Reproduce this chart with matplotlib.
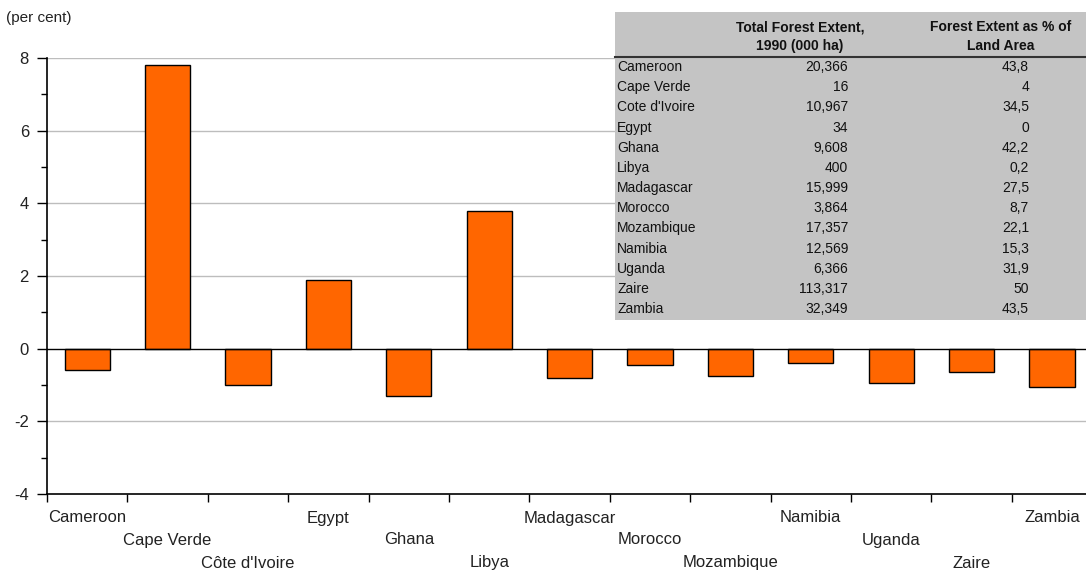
import matplotlib
matplotlib.use("Agg")
import matplotlib.pyplot as plt
from matplotlib.patches import Rectangle
from matplotlib.lines import Line2D

plt.rcParams['font.family'] = ['Liberation Sans', 'DejaVu Sans']
plt.rcParams['axes.unicode_minus'] = False

countries = ['Cameroon', 'Cape Verde', "Côte d'Ivoire", 'Egypt', 'Ghana', 'Libya',
             'Madagascar', 'Morocco', 'Mozambique', 'Namibia', 'Uganda', 'Zaire', 'Zambia']
change = [-0.6, 7.8, -1.0, 1.9, -1.3, 3.8, -0.8, -0.45, -0.75, -0.4, -0.95, -0.65, -1.05]

table_names = ['Cameroon', 'Cape Verde', "Cote d'Ivoire", 'Egypt', 'Ghana', 'Libya',
               'Madagascar', 'Morocco', 'Mozambique', 'Namibia', 'Uganda', 'Zaire', 'Zambia']
forest_extent = ['20,366', '16', '10,967', '34', '9,608', '400', '15,999', '3,864',
                 '17,357', '12,569', '6,366', '113,317', '32,349']
pct_land = ['43,8', '4', '34,5', '0', '42,2', '0,2', '27,5', '8,7', '22,1', '15,3',
            '31,9', '50', '43,5']

W, H = 1086, 573
fig = plt.figure(figsize=(W / 100, H / 100), dpi=100)

# axes in pixel coords of the reference (plot runs slightly past the right edge)
x0, x1, ytop, ybot = 47, 47 + 13 * 80.4, 58, 494
ax = fig.add_axes([x0 / W, (H - ybot) / H, (x1 - x0) / W, (ybot - ytop) / H])

xs = [i + 0.5 for i in range(len(countries))]
ax.bar(xs, change, width=0.56, color='#ff6600', edgecolor='black', linewidth=1.0, zorder=3)

ax.set_xlim(0, 13)
ax.set_ylim(-4, 8)
ax.set_yticks([-4, -2, 0, 2, 4, 6, 8])
ax.set_yticks([-3, -1, 1, 3, 5, 7], minor=True)
for y in [-2, 2, 4, 6, 8]:
    ax.axhline(y, color='#bdbdbd', linewidth=1.0, zorder=1)
ax.axhline(0, color='black', linewidth=1.0, zorder=4)

ax.set_xticks(range(14))
ax.set_xticklabels([])
ax.tick_params(axis='x', direction='out', length=6, width=1, color='black')
ax.tick_params(axis='y', which='major', direction='out', length=7, width=1, labelsize=12, pad=6,
               labelcolor='#222222')
ax.tick_params(axis='y', which='minor', direction='out', length=4, width=1)

for s in ['top', 'right']:
    ax.spines[s].set_visible(False)
for s in ['left', 'bottom']:
    ax.spines[s].set_linewidth(1.2)

# staggered category labels
offsets = [-24, -46, -69]
for i, name in enumerate(countries):
    ax.annotate(name, xy=(xs[i], 0), xycoords=('data', 'axes fraction'),
                xytext=(0, offsets[i % 3]), textcoords='offset pixels',
                ha='center', va='center', fontsize=12, color='#222222',
                annotation_clip=False)

fig.text(6 / W, 1 - 18 / H, '(per cent)', fontsize=11, ha='left', va='center', color='#222222')

# data table box
tx0, ty0, tx1, ty1 = 615, 12, 1090, 320
fig.patches.append(Rectangle((tx0 / W, 1 - ty1 / H), (tx1 - tx0) / W, (ty1 - ty0) / H,
                             transform=fig.transFigure, facecolor='#c4c4c4',
                             edgecolor='none', zorder=5))
fig.lines.append(Line2D([tx0 / W, tx1 / W], [1 - 57 / H, 1 - 57 / H],
                        transform=fig.transFigure, color='#333333', linewidth=1.5, zorder=6))

hdr = dict(fontsize=10, fontweight='bold', ha='center', va='center', zorder=7, color='#111111')
fig.text(800 / W, 1 - 27 / H, 'Total Forest Extent,', **hdr)
fig.text(800 / W, 1 - 46 / H, '1990 (000 ha)', **hdr)
fig.text(1001 / W, 1 - 27 / H, 'Forest Extent as % of', **hdr)
fig.text(1001 / W, 1 - 46 / H, 'Land Area', **hdr)

cell = dict(fontsize=10, va='center', zorder=7, color='#111111')
for i in range(len(table_names)):
    yy = 1 - (67 + i * 20.17) / H
    fig.text(617 / W, yy, table_names[i], ha='left', **cell)
    fig.text(848 / W, yy, forest_extent[i], ha='right', **cell)
    fig.text(1029 / W, yy, pct_land[i], ha='right', **cell)

fig.savefig('out.png', dpi=100)
